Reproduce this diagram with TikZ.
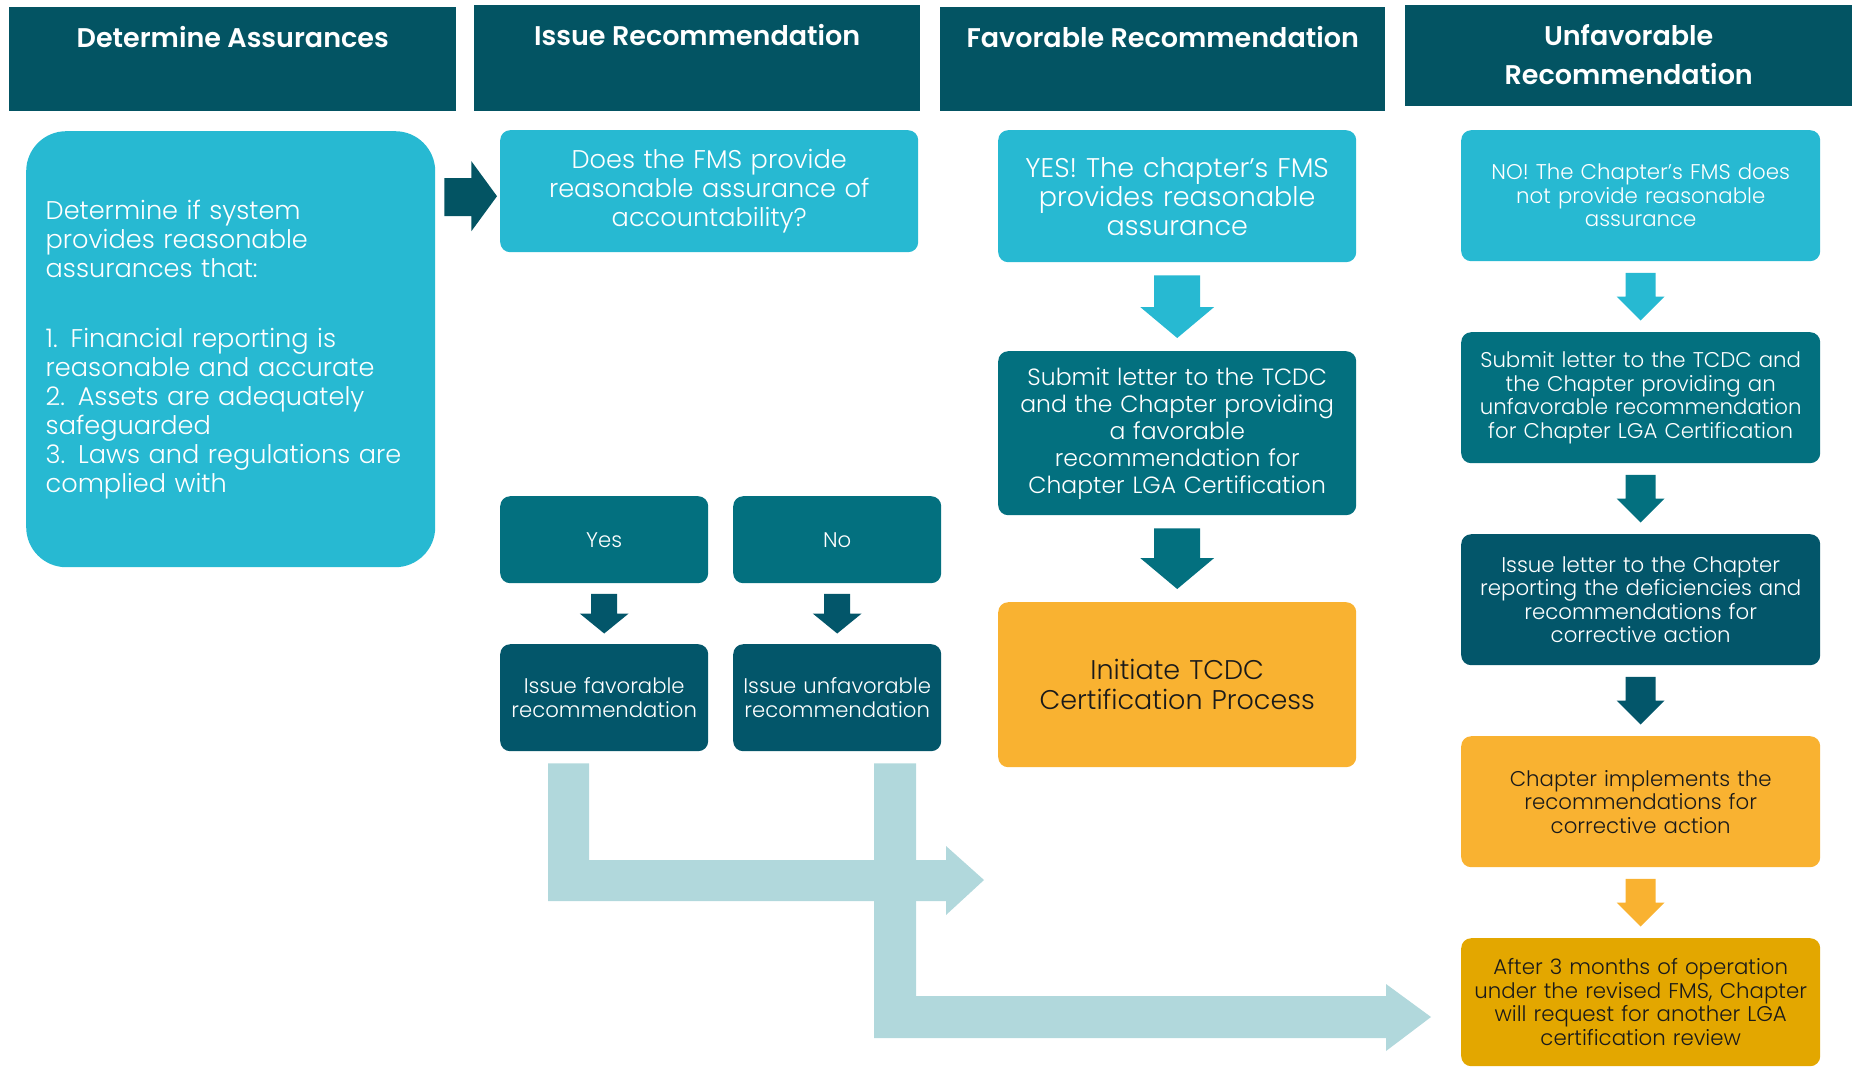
\documentclass[tikz,border=0pt]{standalone}
\usepackage{fontspec}
\setmainfont{Poppins}[UprightFont={* Light}, BoldFont={* SemiBold}]
\usetikzlibrary{calc}
\definecolor{hdrc}{HTML}{035463}
\definecolor{cyanc}{HTML}{27B9D2}
\definecolor{midc}{HTML}{03707F}
\definecolor{darkc}{HTML}{03566A}
\definecolor{orgc}{HTML}{F9B231}
\definecolor{goldc}{HTML}{E3A700}
\definecolor{lightc}{HTML}{B1D8DC}
\definecolor{inkc}{HTML}{1A1A1A}
\newcommand\vblock[7]{%
\fill[#1] let \p1=(#2.south), \p2=(#3.north) in
 (\x1-#5/2,\y1-#7) -- (\x1+#5/2,\y1-#7) -- (\x1+#5/2,\y2+#7+#6) -- (\x1+#4/2,\y2+#7+#6)
 -- (\x1,\y2+#7) -- (\x1-#4/2,\y2+#7+#6) -- (\x1-#5/2,\y2+#7+#6) -- cycle;}
\begin{document}
\begin{tikzpicture}[x=1pt,y=-1pt,
  hdrbox/.style={fill=hdrc, anchor=north west, inner sep=0pt},
  hdrtext/.style={text=white, align=center, font={\fontsize{27}{39}\selectfont\bfseries}, inner sep=0pt},
  box/.style={rounded corners=10pt, anchor=north west, inner sep=0pt, align=center, text=white},
  colA/.style={box, minimum width=359pt, minimum height=131pt, text width=350pt, font={\fontsize{21.3}{23.5}\selectfont}},
  colF/.style={box, minimum width=358pt, text width=350pt, font={\fontsize{23.5}{27}\selectfont}},
  small/.style={box, minimum width=208pt, text width=204pt, font={\fontsize{21.2}{23.5}\selectfont}}
]
\useasboundingbox (0,0) rectangle (1852,1068);

% headers
\node[hdrbox, minimum width=447pt, minimum height=104pt] (h1) at (9,7) {};
\node[hdrbox, minimum width=446pt, minimum height=106pt] (h2) at (474,5) {};
\node[hdrbox, minimum width=445pt, minimum height=104pt] (h3) at (940,7) {};
\node[hdrbox, minimum width=447pt, minimum height=101pt] (h4) at (1405,5) {};
\node[hdrtext] (h1t) at ($(h1.north)+(0,30)$) {Determine Assurances};
\node[hdrtext] (h2t) at ($(h2.north)+(0,30)$) {Issue Recommendation};
\node[hdrtext] (h3t) at ($(h3.north)+(0,30)$) {Favorable Recommendation};
\node[hdrtext] (h4t) at ($(h4.north)+(0,50)$) {Unfavorable\\Recommendation};

% left box
\node[box, fill=cyanc, rounded corners=40pt, minimum width=409pt, minimum height=436pt,
  align=left, text width=370pt, font={\fontsize{25.6}{29}\selectfont}] (det) at (26,131)
  {Determine if system\\provides reasonable\\assurances that:\\[41pt]1. Financial reporting is\\reasonable and accurate\\2. Assets are adequately\\safeguarded\\3. Laws and regulations are\\complied with};

% issue recommendation column
\node[box, fill=cyanc, minimum width=418pt, minimum height=122pt, text width=405pt,
  font={\fontsize{25.6}{29}\selectfont}] (q) at (500,130) {Does the FMS provide\\reasonable assurance of\\accountability?};
\node[small, fill=midc, minimum height=87pt] (yes) at (500,496) {Yes};
\node[small, fill=midc, minimum height=87pt] (no) at (733,496) {No};
\node[small, fill=darkc, minimum height=107pt] (ifav) at (500,644) {Issue favorable\\recommendation};
\node[small, fill=darkc, minimum height=107pt] (iunf) at (733,644) {Issue unfavorable\\recommendation};

% favorable column
\node[colF, fill=cyanc, minimum height=132pt, font={\fontsize{27}{29}\selectfont}] (yesb) at (998,130) {YES! The chapter's FMS\\provides reasonable\\assurance};
\node[colF, fill=midc, minimum height=164pt] (fsub) at (998,351) {Submit letter to the TCDC\\and the Chapter providing\\a favorable\\recommendation for\\Chapter LGA Certification};
\node[colF, fill=orgc, text=inkc, minimum height=165pt, font={\fontsize{27}{30}\selectfont}] (init) at (998,602) {Initiate TCDC\\Certification Process};

% unfavorable column
\node[colA, fill=cyanc] (nob) at (1461,130) {NO! The Chapter's FMS does\\not provide reasonable\\assurance};
\node[colA, fill=midc] (usub) at (1461,332) {Submit letter to the TCDC and\\the Chapter providing an\\unfavorable recommendation\\for Chapter LGA Certification};
\node[colA, fill=darkc] (ulet) at (1461,534) {Issue letter to the Chapter\\reporting the deficiencies and\\recommendations for\\corrective action};
\node[colA, fill=orgc, text=inkc] (impl) at (1461,736) {Chapter implements the\\recommendations for\\corrective action};
\node[colA, fill=goldc, text=inkc, minimum height=128pt] (after) at (1461,938) {After 3 months of operation\\under the revised FMS, Chapter\\will request for another LGA\\certification review};

% block arrows
\fill[hdrc] let \p1=(det.east), \p2=(q.west) in
  (\x1+9pt,\y2+13pt) -- (\x1+36pt,\y2+13pt) -- (\x1+36pt,\y2+30pt) -- (\x2-3pt,\y2-5pt)
  -- (\x1+36pt,\y2-40pt) -- (\x1+36pt,\y2-25pt) -- (\x1+9pt,\y2-25pt) -- cycle;
\vblock{darkc}{yes}{ifav}{49pt}{26pt}{20pt}{10.5pt}
\vblock{darkc}{no}{iunf}{49pt}{26pt}{20pt}{10.5pt}
\vblock{cyanc}{yesb}{fsub}{74pt}{46pt}{31pt}{13pt}
\vblock{midc}{fsub}{init}{74pt}{46pt}{31pt}{13pt}
\vblock{cyanc}{nob}{usub}{48pt}{30pt}{24pt}{11.5pt}
\vblock{midc}{usub}{ulet}{48pt}{30pt}{24pt}{11.5pt}
\vblock{darkc}{ulet}{impl}{48pt}{30pt}{24pt}{11.5pt}
\vblock{orgc}{impl}{after}{48pt}{30pt}{24pt}{11.5pt}

% light L-shaped arrows
\coordinate (tip1) at (984,880);
\coordinate (tip2) at (1431,1017);
\fill[lightc] let \p1=($(ifav.south west)+(48,12)$), \p2=(tip1) in
  (\x1,\y1) -- (\x1+41pt,\y1) -- (\x1+41pt,\y2+20pt) -- (\x2-38pt,\y2+20pt) -- (\x2-38pt,\y2+34pt)
  -- (\x2,\y2) -- (\x2-38pt,\y2-35pt) -- (\x2-38pt,\y2-21pt) -- (\x1,\y2-21pt) -- cycle;
\fill[lightc] let \p1=($(iunf.south west)+(141,12)$), \p2=(tip2) in
  (\x1,\y1) -- (\x1+42pt,\y1) -- (\x1+42pt,\y2+21pt) -- (\x2-45pt,\y2+21pt) -- (\x2-45pt,\y2+33pt)
  -- (\x2,\y2) -- (\x2-45pt,\y2-34pt) -- (\x2-45pt,\y2-21pt) -- (\x1,\y2-21pt) -- cycle;
\end{tikzpicture}
\end{document}
